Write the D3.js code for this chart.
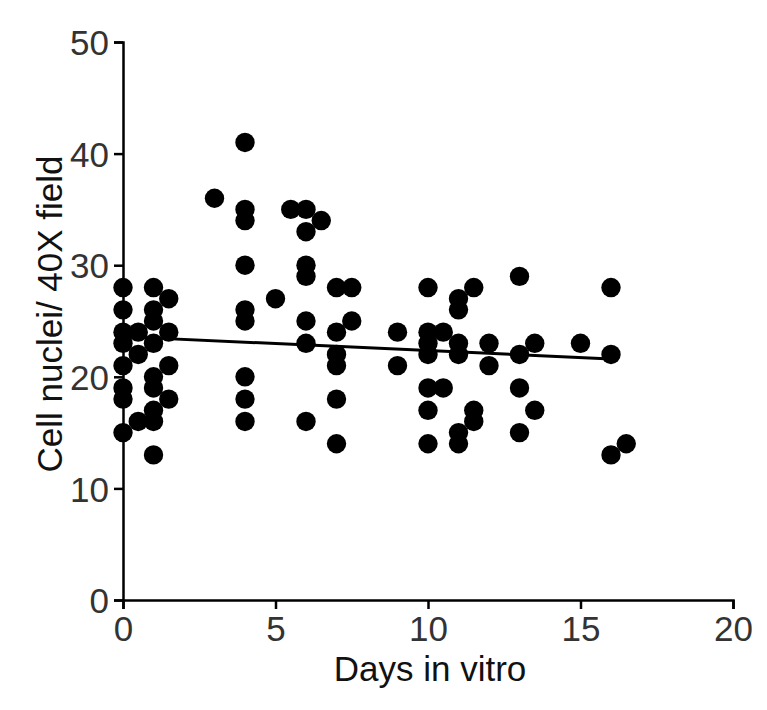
<!DOCTYPE html>
<html>
<head>
<meta charset="utf-8">
<script src="https://cdn.jsdelivr.net/npm/d3@7"></script>
<style>
  body { margin: 0; background: #fff; }
  text { font-family: "Liberation Sans", Arial, sans-serif; }
</style>
</head>
<body>
<svg id="chart"></svg>
<script>
// cell nuclei counts per day in vitro
const days = [0, 0.5, 1, 1.5, 3, 4, 5, 5.5, 6, 6.5, 7, 7.5, 9, 10, 10.5, 11, 11.5, 12, 13, 13.5, 15, 16, 16.5];
const counts = [
	[28, 26, 24, 23, 21, 19, 18, 15],
	[24, 22, 16],
	[28, 26, 25, 23, 20, 19, 17, 16, 13],
	[27, 24, 21, 18],
	[36],
	[41, 35, 34, 30, 26, 25, 20, 18, 16],
	[27],
	[35],
	[35, 33, 30, 29, 25, 23, 16],
	[34],
	[28, 24, 22, 21, 18, 14],
	[28, 25],
	[24, 21],
	[28, 24, 23, 22, 19, 17, 14],
	[24, 19],
	[27, 26, 23, 22, 15, 14],
	[28, 17, 16],
	[23, 21],
	[29, 22, 19, 15],
	[23, 17],
	[23],
	[28, 22, 13],
	[14]
];
const xTicks = [0, 5, 10, 15, 20];
const yTicks = [0, 10, 20, 30, 40, 50];
// fitted line: start/end day and value
const fitDays = [0, 16];
const fitValues = [23.6, 21.6];

const width = 767, height = 710;
const svg = d3.select("#chart").attr("width", width).attr("height", height);

const x = d3.scaleLinear().domain([0, 20]).range([123, 733]);
const y = d3.scaleLinear().domain([0, 50]).range([600, 42]);

// flatten to points
var points = [];
days.forEach(function (d, i) {
	counts[i].forEach(function (c) { points.push({ day: d, n: c }); });
});

const xAxis = svg.append("g")
	.attr("transform", "translate(0,600)")
	.call(d3.axisBottom(x).tickValues(xTicks).tickSize(9).tickPadding(7).tickFormat(d3.format("d")));
const yAxis = svg.append("g")
	.attr("transform", "translate(123,0)")
	.call(d3.axisLeft(y).tickValues(yTicks).tickSize(9).tickPadding(5).tickFormat(d3.format("d")));

[xAxis, yAxis].forEach(function (a) {
	a.select(".domain").attr("stroke", "#000").attr("stroke-width", 2.5);
	a.selectAll(".tick line").attr("stroke", "#000").attr("stroke-width", 2.5);
	a.selectAll(".tick text")
		.attr("fill", "#333")
		.style("font-size", "35px")
		.style("font-family", "'Liberation Sans', Arial, sans-serif");
});
yAxis.selectAll(".tick text").attr("dy", "0.36em");

svg.append("g").selectAll("circle")
	.data(points)
	.enter().append("circle")
	.attr("cx", d => x(d.day))
	.attr("cy", d => y(d.n))
	.attr("r", 9.7)
	.attr("fill", "#000");

svg.append("line")
	.attr("x1", x(fitDays[0])).attr("y1", y(fitValues[0]))
	.attr("x2", x(fitDays[1])).attr("y2", y(fitValues[1]))
	.attr("stroke", "#000")
	.attr("stroke-width", 3);

svg.append("text")
	.attr("x", 430).attr("y", 681)
	.attr("text-anchor", "middle")
	.attr("fill", "#111")
	.style("font-size", "35px")
	.text("Days in vitro");

svg.append("text")
	.attr("transform", "translate(62,314) rotate(-90)")
	.attr("text-anchor", "middle")
	.attr("fill", "#111")
	.style("font-size", "35px")
	.text("Cell nuclei/ 40X field");
</script>
</body>
</html>
